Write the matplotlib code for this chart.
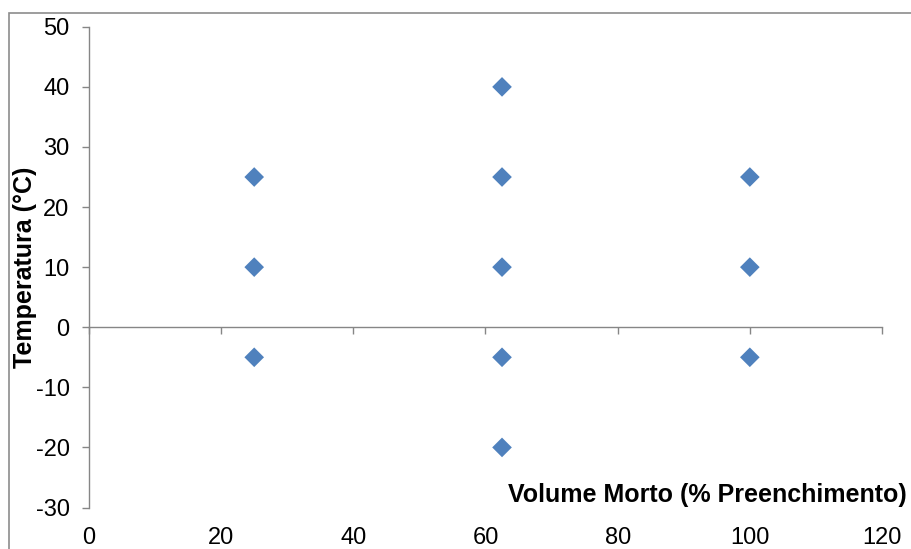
import matplotlib
matplotlib.use("Agg")
import matplotlib.pyplot as plt
from matplotlib.patches import Rectangle

# Data
volume = [25, 25, 25, 62.5, 62.5, 62.5, 62.5, 62.5, 100, 100, 100]
temperature = [25, 10, -5, 40, 25, 10, -5, -20, 25, 10, -5]
x_ticks = [0, 20, 40, 60, 80, 100, 120]
y_ticks = [-30, -20, -10, 0, 10, 20, 30, 40, 50]
x_label = "Volume Morto (% Preenchimento)"
y_label = "Temperatura (°C)"

plt.rcParams['font.family'] = ['Liberation Sans', 'DejaVu Sans']
plt.rcParams['axes.unicode_minus'] = False

W, H = 912, 549
fig = plt.figure(figsize=(W / 100, H / 100), dpi=100)
ax = fig.add_axes([89 / W, 1 - 507.5 / H, (882 - 89) / W, (507.5 - 26.8) / H])

axis_col = '#868686'
ax.scatter(volume, temperature, marker='D', s=10.0 ** 2, color='#4F81BD',
           edgecolors='none', zorder=3, clip_on=False)

ax.set_xlim(0, 120)
ax.set_ylim(-30, 50)

for s in ['top', 'right']:
    ax.spines[s].set_visible(False)
ax.spines['left'].set_color(axis_col)
ax.spines['left'].set_linewidth(1.0)
ax.spines['bottom'].set_position(('data', 0))
ax.spines['bottom'].set_color(axis_col)
ax.spines['bottom'].set_linewidth(1.0)

ax.set_yticks(y_ticks)
ax.tick_params(axis='y', direction='out', length=5, width=1.0, color=axis_col,
               labelsize=17, pad=9, labelcolor='black')
ax.set_xticks(x_ticks)
ax.tick_params(axis='x', direction='out', length=5, width=1.0, color=axis_col,
               labelbottom=False)

# Tick labels at the bottom ("low" position)
sec = ax.secondary_xaxis('bottom')
sec.spines['bottom'].set_visible(False)
sec.set_xticks(x_ticks)
sec.tick_params(axis='x', length=0, labelsize=17, pad=14, labelcolor='black')

fig.text(907 / W, 1 - 495 / H, x_label, ha='right', va='center',
         fontsize=18, fontweight='bold')
fig.text(25 / W, 1 - 267 / H, y_label, ha='center', va='center',
         rotation=90, fontsize=18, fontweight='bold')

# chart area border
fig.patches.append(Rectangle((8.7 / W, -0.05), 1.2, 1.05 - 13.3 / H,
                             transform=fig.transFigure, fill=False,
                             edgecolor='#8c8c8c', linewidth=1.2))

fig.savefig('out.png', dpi=100)
